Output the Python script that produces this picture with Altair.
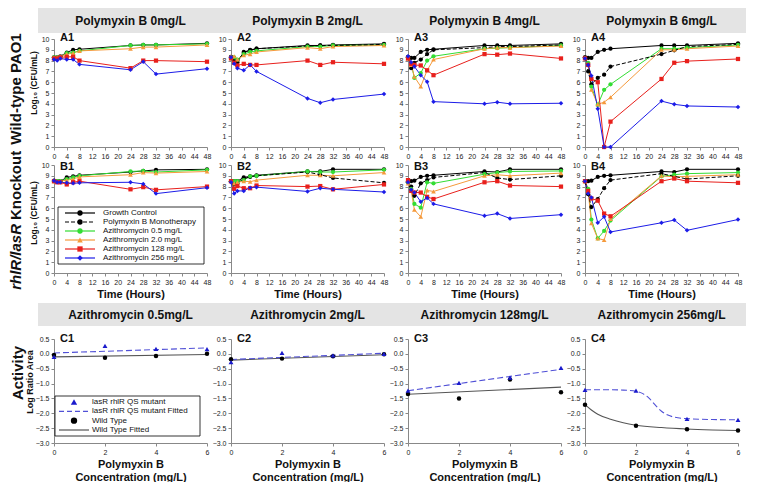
import altair as alt
import pandas as pd

FONT = "Liberation Sans"
W, H, HC = 153, 108, 104

T = [0, 1, 2, 4, 6, 8, 24, 28, 32, 48]
XT = list(range(0, 49, 4))
YT = list(range(0, 11))

GC = "Growth Control"
PB = "Polymyxin B Monotherapy"
AZ05 = "Azithromycin 0.5 mg/L"
AZ2 = "Azithromycin 2.0 mg/L"
AZ128 = "Azithromycin 128 mg/L"
AZ256 = "Azithromycin 256 mg/L"
SERIES = [GC, PB, AZ05, AZ2, AZ128, AZ256]
COLORS = ["#000000", "#000000", "#33dd33", "#f59a3c", "#e8201c", "#1c1ce8"]
SHAPE_GROUPS = [("circle", [GC, PB, AZ05], 18), ("triangle-up", [AZ2], 22),
                ("square", [AZ128], 18), ("diamond", [AZ256], 20)]

PB_HEAD = ["Polymyxin B 0mg/L", "Polymyxin B 2mg/L", "Polymyxin B 4mg/L", "Polymyxin B 6mg/L"]
AZ_HEAD = ["Azithromycin 0.5mg/L", "Azithromycin 2mg/L", "Azithromycin 128mg/L", "Azithromycin 256mg/L"]

# ---- Wild-type PAO1 (row A) ----
A1 = {
    GC: [8.3, 8.3, 8.4, 8.75, 9.0, 9.05, 9.4, 9.45, 9.45, 9.6],
    AZ05: [8.3, 8.3, 8.35, 8.7, 8.75, 8.9, 9.4, 9.45, 9.45, 9.55],
    AZ2: [8.3, 8.3, 8.4, 8.6, 8.7, 8.9, 9.1, 9.25, 9.25, 9.45],
    AZ128: [8.2, 8.2, 8.3, 8.35, 8.35, 8.0, 7.3, 8.0, 8.0, 7.9],
    AZ256: [8.1, 8.0, 8.2, 8.1, 8.1, 7.65, 7.15, 7.9, 6.75, 7.25],
}
A2 = {
    GC: [8.35, 8.2, 7.85, 8.8, 8.95, 9.1, 9.4, 9.4, 9.45, 9.55],
    PB: [8.3, 8.1, 8.0, 8.7, 9.0, 9.1, 9.35, 9.4, 9.4, 9.5],
    AZ05: [8.2, 8.3, 8.1, 8.6, 8.8, 8.9, 9.3, 9.3, 9.4, 9.45],
    AZ2: [8.4, 8.4, 8.1, 8.5, 8.6, 8.8, 9.2, 9.1, 9.3, 9.4],
    AZ128: [8.2, 7.8, 7.55, 7.7, 7.6, 7.6, 8.0, 7.6, 7.85, 7.7],
    AZ256: [8.3, 7.7, 7.3, 7.1, 7.6, 7.0, 4.5, 4.1, 4.4, 4.9],
}
A3 = {
    GC: [8.35, 8.25, 8.25, 8.8, 9.0, 9.05, 9.4, 9.4, 9.4, 9.55],
    PB: [8.3, 7.3, 7.8, 8.1, 8.6, 9.0, 9.2, 9.3, 9.3, 9.45],
    AZ05: [8.3, 7.7, 6.4, 6.85, 8.0, 8.4, 9.1, 9.15, 9.2, 9.4],
    AZ2: [8.2, 7.6, 6.5, 5.6, 7.1, 8.1, 9.1, 9.2, 9.2, 9.35],
    AZ128: [8.2, 7.7, 7.6, 7.55, 7.1, 6.65, 8.6, 8.55, 8.65, 8.2],
    AZ256: [8.4, 7.85, 7.45, 6.65, 6.05, 4.2, 4.0, 4.15, 4.0, 4.05],
}
A4 = {
    GC: [8.3, 8.25, 8.25, 8.8, 9.0, 9.1, 9.4, 9.4, 9.4, 9.6],
    PB: [8.3, 7.0, 5.8, 6.4, 6.7, 7.45, 8.6, 8.95, 9.3, 9.5],
    AZ05: [8.2, 7.8, 5.6, 3.9, 5.3, 5.8, 9.1, 9.1, 9.2, 9.45],
    AZ2: [8.3, 7.6, 5.3, 3.95, 4.15, 4.6, 9.0, 9.0, 9.1, 9.35],
    AZ128: [8.2, 7.6, 6.3, 6.0, 0.0, 2.35, 6.3, 7.8, 7.95, 8.15],
    AZ256: [8.2, 7.6, 6.6, 3.55, 0.0, 0.0, 4.25, 3.95, 3.8, 3.7],
}
# ---- rhlR/lasR knockout (row B) ----
B1 = {
    GC: [8.55, 8.5, 8.5, 8.85, 8.95, 9.05, 9.35, 9.45, 9.55, 9.6],
    AZ05: [8.5, 8.5, 8.5, 8.7, 8.85, 9.0, 9.4, 9.45, 9.35, 9.55],
    AZ2: [8.5, 8.5, 8.5, 8.6, 8.7, 8.9, 9.1, 9.3, 9.25, 9.4],
    AZ128: [8.5, 8.4, 8.4, 8.2, 8.4, 8.5, 7.75, 7.95, 7.7, 8.0],
    AZ256: [8.55, 8.4, 8.4, 8.35, 8.3, 8.35, 8.4, 8.25, 7.35, 7.9],
}
B2 = {
    GC: [8.5, 8.5, 8.5, 8.85, 8.95, 9.05, 9.4, 9.4, 9.6, 9.6],
    PB: [8.5, 8.2, 8.3, 8.75, 8.9, 9.0, 9.35, 9.1, 8.8, 8.35],
    AZ05: [8.5, 8.5, 8.5, 8.6, 8.95, 9.0, 9.4, 9.35, 9.35, 9.55],
    AZ2: [8.5, 8.3, 8.4, 8.5, 8.45, 8.6, 9.05, 9.05, 9.0, 9.3],
    AZ128: [8.5, 7.8, 8.05, 7.85, 7.85, 8.1, 8.0, 8.05, 7.75, 8.2],
    AZ256: [8.4, 7.35, 7.6, 7.6, 7.9, 7.95, 7.55, 7.85, 7.75, 7.5],
}
B3 = {
    GC: [8.5, 8.5, 8.55, 8.9, 9.0, 9.05, 9.4, 9.35, 9.6, 9.6],
    PB: [8.4, 8.0, 7.15, 8.3, 8.6, 8.85, 9.3, 8.8, 8.65, 9.0],
    AZ05: [8.4, 7.8, 6.4, 6.05, 8.4, 8.3, 9.15, 9.3, 9.4, 9.45],
    AZ2: [8.3, 7.6, 5.85, 5.2, 7.65, 7.55, 9.0, 9.1, 9.0, 9.25],
    AZ128: [8.6, 7.6, 7.45, 7.45, 7.05, 6.85, 8.4, 8.5, 8.1, 8.0],
    AZ256: [8.4, 7.7, 7.45, 6.6, 6.95, 6.4, 5.3, 5.5, 5.05, 5.4],
}
B4 = {
    GC: [8.5, 8.5, 8.55, 8.9, 9.0, 9.05, 9.4, 9.35, 9.6, 9.6],
    PB: [8.5, 7.3, 6.1, 6.85, 7.85, 8.6, 9.2, 8.95, 8.7, 9.0],
    AZ05: [8.5, 7.8, 4.95, 3.2, 3.9, 4.85, 8.95, 9.1, 9.2, 9.3],
    AZ2: [8.5, 7.6, 4.6, 3.2, 3.05, 5.0, 9.0, 8.9, 8.95, 9.1],
    AZ128: [8.5, 7.6, 6.9, 6.7, 5.5, 5.25, 8.5, 8.75, 8.5, 8.35],
    AZ256: [8.5, 7.35, 7.0, 4.65, 5.2, 3.8, 4.65, 4.9, 3.95, 4.95],
}

# ---- Activity (row C) ----
CX = [0, 2, 4, 6]
CY = [-3.0, -2.5, -2.0, -1.5, -1.0, -0.5, 0.0, 0.5]
MUT = "lasR rhlR QS mutant"
MUTF = "lasR rhlR QS mutant Fitted"
WT = "Wild Type"
WTF = "Wild Type Fitted"
CSER = [MUT, MUTF, WT, WTF]
CCOL = ["#1a1acc", "#5050d6", "#000000", "#555555"]

C1_mut = [-0.1, 0.27, 0.17, 0.16]
C1_wt = [-0.04, -0.13, -0.07, 0.0]
C1_fit_x = [0, 6]
C1_fit_mut = [0.03, 0.2]
C1_fit_wt = [-0.1, -0.02]

C2_mut = [-0.28, 0.03, -0.05, 0.0]
C2_wt = [-0.18, -0.16, -0.08, -0.01]
C2_fit_x = [0, 6]
C2_fit_mut = [-0.19, 0.02]
C2_fit_wt = [-0.21, -0.03]

C3_mut = [-1.24, -0.98, -0.8, -0.47]
C3_wt = [-1.35, -1.5, -0.86, -1.29]
C3_fit_x = [0, 6]
C3_fit_mut = [-1.24, -0.52]
C3_fit_wt = [-1.36, -1.12]

C4_mut = [-1.21, -1.24, -2.19, -2.22]
C4_wt = [-1.71, -2.42, -2.54, -2.58]
C4_fit_mut_x = [0, 1, 1.5, 2, 2.25, 2.5, 2.75, 3, 3.25, 3.5, 4, 5, 6]
C4_fit_mut = [-1.21, -1.21, -1.22, -1.26, -1.33, -1.48, -1.72, -1.93, -2.06, -2.13, -2.18, -2.21, -2.22]
C4_fit_wt_x = [0, 0.25, 0.5, 1, 1.5, 2, 3, 4, 5, 6]
C4_fit_wt = [-1.71, -1.89, -2.03, -2.2, -2.32, -2.4, -2.48, -2.53, -2.56, -2.58]


def one():
    return pd.DataFrame({"t": [0]})


def only(names):
    return alt.FieldOneOfPredicate(field="series", oneOf=names)


def label(text, x, y, size, angle=0, align="center", style="normal", weight="bold", color="#111111"):
    kw = dict(fontSize=size, fontWeight=weight, fontStyle=style, font=FONT,
              align=align, baseline="middle", color=color)
    if angle:
        kw["angle"] = angle
    return alt.Chart(pd.DataFrame({"t": [text]})).mark_text(**kw).encode(
        text="t:N", x=alt.value(x), y=alt.value(y))


def band(y1, y2):
    return alt.Chart(one()).mark_rect(color="#e4e4e4").encode(
        x=alt.value(-16), x2=alt.value(W + 8), y=alt.value(y1), y2=alt.value(y2))


def legend_group(names, colscale, yrange, box, line_x, mark_x, text_x, rule_groups, point_groups):
    ldf = pd.DataFrame({"series": names})
    ye = alt.Y("series:N", scale=alt.Scale(type="point", domain=names, range=yrange, padding=0), axis=None)
    col = alt.Color("series:N", scale=colscale, legend=None)
    layers = [alt.Chart(one()).mark_rect(fill="#ffffff", stroke="#000000", strokeWidth=0.8).encode(
        x=alt.value(box[0]), x2=alt.value(box[1]), y=alt.value(box[2]), y2=alt.value(box[3]))]
    for dash, grp in rule_groups:
        kw = {"strokeWidth": 1.2}
        if dash:
            kw["strokeDash"] = dash
        layers.append(alt.Chart(ldf).transform_filter(only(grp)).mark_rule(**kw).encode(
            x=alt.value(line_x[0]), x2=alt.value(line_x[1]), y=ye, color=col))
    for shp, grp, sz in point_groups:
        layers.append(alt.Chart(ldf).transform_filter(only(grp)).mark_point(
            filled=True, shape=shp, size=sz, opacity=1).encode(x=alt.value(mark_x), y=ye, color=col))
    layers.append(alt.Chart(ldf).mark_text(
        align="left", baseline="middle", fontSize=8, font=FONT, color="#111111").encode(
        x=alt.value(text_x), y=ye, text="series:N"))
    return alt.layer(*layers)


def time_panel(tag, data, head=None, legend=False, xtitle=None, tag_y=-1, extras=()):
    rows = [{"time": t, "cfu": v, "series": s}
            for s, vals in data.items() for t, v in zip(T, vals)]
    df = pd.DataFrame(rows)
    xe = alt.X("time:Q", scale=alt.Scale(domain=[0, 48], nice=False),
               axis=alt.Axis(values=XT, title=xtitle, labelFlush=False, labelOverlap=False))
    ye = alt.Y("cfu:Q", scale=alt.Scale(domain=[0, 10], nice=False),
               axis=alt.Axis(values=YT, title=None))
    cscale = alt.Scale(domain=SERIES, range=COLORS)
    col = alt.Color("series:N", scale=cscale, legend=None)
    base = alt.Chart(df)
    data_layers = [
        base.transform_filter(only([GC, AZ05, AZ2, AZ128, AZ256])).mark_line(
            strokeWidth=1).encode(x=xe, y=ye, color=col),
        base.transform_filter(only([PB])).mark_line(
            strokeWidth=1, strokeDash=[4, 2]).encode(x=xe, y=ye, color=col),
    ]
    for shp, names, sz in SHAPE_GROUPS:
        data_layers.append(base.transform_filter(only(names)).mark_point(
            filled=True, size=sz, opacity=1, shape=shp).encode(x=xe, y=ye, color=col))
    layers = []
    if head:
        layers += [band(-31, -6), label(head, W / 2, -18.5, 12)]
    layers.append(alt.layer(*data_layers))
    if legend:
        layers.append(legend_group(
            SERIES, cscale, [48, 93], (4, 150, 42, 99), (11, 41), 26, 49,
            [(None, [GC, AZ05, AZ2, AZ128, AZ256]), ([4, 2], [PB])],
            [(shp, names, sz + 10) for shp, names, sz in SHAPE_GROUPS]))
    layers.append(label(tag, 6, tag_y, 11, align="left"))
    layers += list(extras)
    return alt.layer(*layers).resolve_scale(y="independent").properties(width=W, height=H)


def act_panel(tag, head, mut, wt, fmx, fmy, fwx, fwy, legend=False, extras=()):
    pts = pd.DataFrame(
        [{"conc": c, "lr": v, "series": MUT} for c, v in zip(CX, mut)]
        + [{"conc": c, "lr": v, "series": WT} for c, v in zip(CX, wt)])
    fits = pd.DataFrame(
        [{"conc": c, "lr": v, "series": MUTF} for c, v in zip(fmx, fmy)]
        + [{"conc": c, "lr": v, "series": WTF} for c, v in zip(fwx, fwy)])
    xe = alt.X("conc:Q", scale=alt.Scale(domain=[0, 6], nice=False),
               axis=alt.Axis(values=CX, title=["Polymyxin B", "Concentration (mg/L)"],
                             labelFlush=False))
    ye = alt.Y("lr:Q", scale=alt.Scale(domain=[-3, 0.5], nice=False),
               axis=alt.Axis(values=CY, format=".1f", title=None))
    cscale = alt.Scale(domain=CSER, range=CCOL)
    col = alt.Color("series:N", scale=cscale, legend=None)
    data_layers = [
        alt.Chart(fits).transform_filter(only([WTF])).mark_line(
            strokeWidth=1.1, interpolate="monotone").encode(x=xe, y=ye, color=col),
        alt.Chart(fits).transform_filter(only([MUTF])).mark_line(
            strokeWidth=1.1, strokeDash=[6, 3], interpolate="monotone").encode(x=xe, y=ye, color=col),
        alt.Chart(pts).transform_filter(only([WT])).mark_point(
            filled=True, size=20, opacity=1, shape="circle").encode(x=xe, y=ye, color=col),
        alt.Chart(pts).transform_filter(only([MUT])).mark_point(
            filled=True, size=24, opacity=1, shape="triangle-up").encode(x=xe, y=ye, color=col),
    ]
    layers = [band(-36, -13), label(head, W / 2, -24.5, 12), alt.layer(*data_layers)]
    if legend:
        layers.append(legend_group(
            CSER, cscale, [63, 91], (1, 146, 57, 97), (5, 35), 20, 38,
            [([5, 3], [MUTF]), (None, [WTF])],
            [("triangle-up", [MUT], 40), ("circle", [WT], 40)]))
    layers.append(label(tag, 6, 0, 11, align="left"))
    layers += list(extras)
    return alt.layer(*layers).resolve_scale(y="independent").properties(width=W, height=HC)


rowA = [
    time_panel("A1", A1, PB_HEAD[0], extras=[
        label("Wild-type PAO1", -38, H / 2 - 4, 15, angle=270),
        label("Log\u2081\u2080 (CFU/mL)", -20, H / 2 - 10, 8.5, angle=270)]),
    time_panel("A2", A2, PB_HEAD[1]),
    time_panel("A3", A3, PB_HEAD[2]),
    time_panel("A4", A4, PB_HEAD[3]),
]
rowB = [
    time_panel("B1", B1, legend=True, xtitle="Time (Hours)", tag_y=1.5, extras=[
        label("rhlR/lasR", -38, 59, 15, angle=270, align="right", style="italic"),
        label("Knockout", -38, 55, 15, angle=270, align="left"),
        label("Log\u2081\u2080 (CFU/mL)", -20, H / 2 - 6, 8.5, angle=270)]),
    time_panel("B2", B2, xtitle="Time (Hours)", tag_y=1.5),
    time_panel("B3", B3, xtitle="Time (Hours)", tag_y=1.5),
    time_panel("B4", B4, xtitle="Time (Hours)", tag_y=1.5),
]
spacer = alt.Chart(one()).mark_point(opacity=0).encode(
    x=alt.value(0), y=alt.value(0)).properties(width=W, height=30)
rowC = [
    act_panel("C1", AZ_HEAD[0], C1_mut, C1_wt, C1_fit_x, C1_fit_mut, C1_fit_x, C1_fit_wt, legend=True,
              extras=[label("Activity", -36, 34, 15, angle=270),
                      label("Log Ratio Area", -24, 43, 9, angle=270)]),
    act_panel("C2", AZ_HEAD[1], C2_mut, C2_wt, C2_fit_x, C2_fit_mut, C2_fit_x, C2_fit_wt),
    act_panel("C3", AZ_HEAD[2], C3_mut, C3_wt, C3_fit_x, C3_fit_mut, C3_fit_x, C3_fit_wt),
    act_panel("C4", AZ_HEAD[3], C4_mut, C4_wt, C4_fit_mut_x, C4_fit_mut, C4_fit_wt_x, C4_fit_wt),
]

chart = alt.concat(
    *rowA, *rowB, spacer, spacer, spacer, spacer, *rowC,
    columns=4, spacing={"row": 18, "column": 24}, bounds="flush",
).resolve_scale(
    color="independent"
).properties(padding=0).configure_view(stroke=None).configure_axis(
    labelFont=FONT, labelFontSize=7, labelColor="#222222", labelPadding=2,
    tickSize=3, tickColor="#888888", domainColor="#888888", grid=False,
    titleFont=FONT, titleFontSize=11, titleFontWeight="bold", titleColor="#111111",
    titlePadding=3,
)

chart.save("out.html", embed_options={"renderer": "svg", "actions": False})
